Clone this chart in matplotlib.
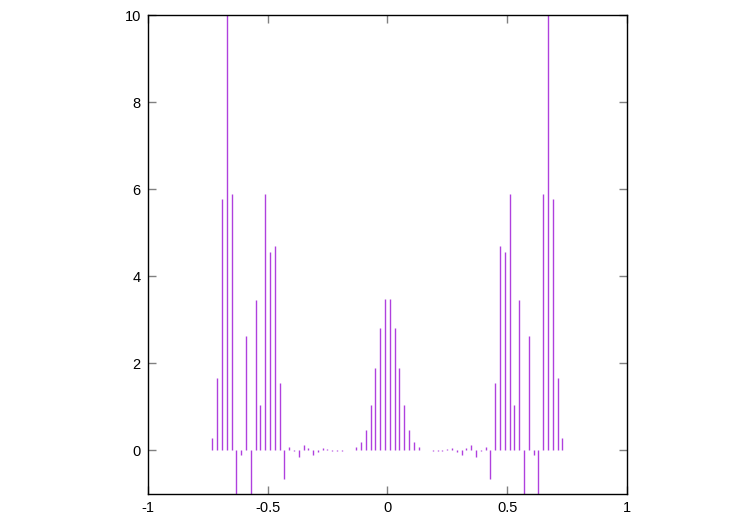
import numpy as np
import matplotlib
matplotlib.use("Agg")
import matplotlib.pyplot as plt

# impulse positions, step 0.02 from -0.75 to 0.75
xs = [-0.75, -0.73, -0.71, -0.69, -0.67, -0.65, -0.63, -0.61, -0.59, -0.57,
      -0.55, -0.53, -0.51, -0.49, -0.47, -0.45, -0.43, -0.41, -0.39, -0.37,
      -0.35, -0.33, -0.31, -0.29, -0.27, -0.25, -0.23, -0.21, -0.19, -0.17,
      -0.15, -0.13, -0.11, -0.09, -0.07, -0.05, -0.03, -0.01,
      0.01, 0.03, 0.05, 0.07, 0.09, 0.11, 0.13, 0.15, 0.17, 0.19,
      0.21, 0.23, 0.25, 0.27, 0.29, 0.31, 0.33, 0.35, 0.37, 0.39,
      0.41, 0.43, 0.45, 0.47, 0.49, 0.51, 0.53, 0.55, 0.57, 0.59,
      0.61, 0.63, 0.65, 0.67, 0.69, 0.71, 0.73, 0.75]

ys = [0.01, 0.28, 1.66, 5.78, 12.0, 5.9, -1.6, -0.11, 2.62, -1.6,
      3.45, 1.04, 5.9, 4.57, 4.69, 1.55, -0.65, 0.09, -0.02, -0.15,
      0.13, 0.06, -0.11, -0.03, 0.05, 0.04, -0.02, -0.02, -0.01, 0.01,
      0.02, 0.07, 0.2, 0.48, 1.05, 1.89, 2.82, 3.47,
      3.47, 2.82, 1.89, 1.05, 0.48, 0.2, 0.07, 0.02, 0.01, -0.01,
      -0.02, -0.02, 0.04, 0.05, -0.03, -0.11, 0.06, 0.13, -0.15, -0.02,
      0.09, -0.65, 1.55, 4.69, 4.57, 5.9, 1.04, 3.45, -1.6, 2.62,
      -0.11, -1.6, 5.9, 12.0, 5.78, 1.66, 0.28, 0.01]

xticks = [-1, -0.5, 0, 0.5, 1]
xlabels = ["-1", "-0.5", "0", "0.5", "1"]
yticks = [0, 2, 4, 6, 8, 10]

plt.rcParams['font.family'] = ['Liberation Sans', 'DejaVu Sans']

fig = plt.figure(figsize=(7.5, 5.25), dpi=100)
ax = fig.add_axes([0.197, 0.059, 0.639, 0.912])

ax.vlines(xs, 0, ys, colors='#9400d3', linewidth=1.0, alpha=0.75)

ax.set_xlim(-1, 1)
ax.set_ylim(-1, 10)
ax.set_xticks(xticks)
ax.set_xticklabels(xlabels)
ax.set_yticks(yticks)
ax.tick_params(direction='in', length=6, width=1, color='#808080',
               top=True, right=True, labelsize=10.5, pad=5)
for s in ax.spines.values():
    s.set_linewidth(1.0)
    s.set_color('black')

fig.savefig("out.png", dpi=100)
